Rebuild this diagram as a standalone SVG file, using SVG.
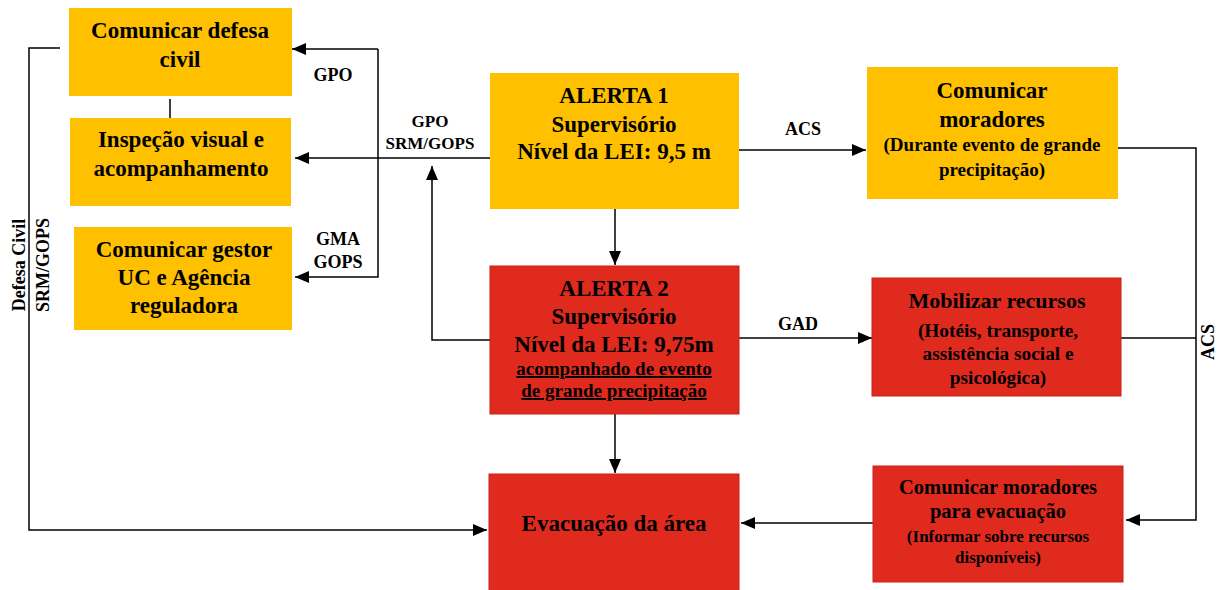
<svg xmlns="http://www.w3.org/2000/svg" width="1221" height="590" viewBox="0 0 1221 590">
<style>
text{font-family:"Liberation Serif","Times New Roman",serif;font-weight:bold;fill:#000;text-anchor:middle}
.y{fill:#FFC000}
.r{fill:#E02A1E;stroke:#C8201A;stroke-width:1}
.t23{font-size:23px}
.t18{font-size:18px}
.t17{font-size:17px}
.ln{fill:none;stroke:#000;stroke-width:1.5}
.u{text-decoration:underline}
</style>
<defs>
<marker id="ah" markerUnits="userSpaceOnUse" markerWidth="14" markerHeight="12" refX="14" refY="6" orient="auto">
<path d="M0,0 L14,6 L0,12 z" fill="#000"/>
</marker>
</defs>
<g id="connectors">
<path class="ln" d="M60,48 H29 V530 H487" stroke="#333" marker-end="url(#ah)"/>
<line class="ln" x1="170" y1="99" x2="170" y2="126" stroke="#555" stroke-width="1"/>
<path class="ln" d="M378,49 H292" marker-end="url(#ah)"/>
<path class="ln" d="M378,49 V277 H295" marker-end="url(#ah)"/>
<path class="ln" d="M490,158 H295" marker-end="url(#ah)"/>
<path class="ln" d="M490,340 H432 V166" marker-end="url(#ah)"/>
<path class="ln" d="M739,150 H866" marker-end="url(#ah)"/>
<path class="ln" d="M615,209 V265" marker-end="url(#ah)"/>
<path class="ln" d="M739,338 H872" marker-end="url(#ah)"/>
<path class="ln" d="M615,414 V473" marker-end="url(#ah)"/>
<path class="ln" d="M1118,148 H1196 V520 H1126" marker-end="url(#ah)"/>
<path class="ln" d="M1121,338 H1196"/>
<path class="ln" d="M873,523 H741" marker-end="url(#ah)"/>
<text class="t18" x="333" y="81">GPO</text>
<text class="t17" x="430" y="127">GPO</text>
<text class="t17" x="430" y="149">SRM/GOPS</text>
<text class="t18" x="338" y="245">GMA</text>
<text class="t18" x="338" y="268">GOPS</text>
<text class="t18" x="803" y="135">ACS</text>
<text class="t18" x="798" y="330">GAD</text>
<text class="t18" transform="translate(1214,342) rotate(-90)">ACS</text>
<text class="t18" transform="translate(25,265) rotate(-90)">Defesa Civil</text>
<text class="t18" transform="translate(49,265) rotate(-90)">SRM/GOPS</text>
</g>
<g id="n-defesa">
<rect class="y" x="69" y="8" width="223" height="88"/>
<text class="t23" x="180" y="38">Comunicar defesa</text>
<text class="t23" x="180" y="67">civil</text>
</g>
<g id="n-inspecao">
<rect class="y" x="70" y="118" width="221" height="88"/>
<text class="t23" x="181" y="147">Inspeção visual e</text>
<text class="t23" x="181" y="176">acompanhamento</text>
</g>
<g id="n-gestor">
<rect class="y" x="74" y="227" width="218" height="103"/>
<text class="t23" x="184" y="257">Comunicar gestor</text>
<text class="t23" x="184" y="285">UC e Agência</text>
<text class="t23" x="184" y="313">reguladora</text>
</g>
<g id="n-alerta1">
<rect class="y" x="490" y="73" width="249" height="136"/>
<text class="t23" x="614" y="103">ALERTA 1</text>
<text class="t23" x="614" y="132">Supervisório</text>
<text class="t23" x="614" y="159">Nível da LEI: 9,5 m</text>
</g>
<g id="n-moradores">
<rect class="y" x="867" y="67" width="251" height="132"/>
<text class="t23" x="992" y="98">Comunicar</text>
<text class="t23" x="992" y="127">moradores</text>
<text style="font-size:19px" x="992" y="151">(Durante evento de grande</text>
<text style="font-size:19px" x="992" y="176">precipitação)</text>
</g>
<g id="n-alerta2">
<rect class="r" x="490" y="266" width="249" height="148"/>
<text class="t23" x="614" y="296">ALERTA 2</text>
<text class="t23" x="614" y="324">Supervisório</text>
<text class="t23" x="614" y="352">Nível da LEI: 9,75m</text>
<text class="u" style="font-size:19px" x="614" y="375">acompanhado de evento</text>
<text class="u" style="font-size:19px" x="614" y="397">de grande precipitação</text>
</g>
<g id="n-mobilizar">
<rect class="r" x="872" y="278" width="249" height="118"/>
<text style="font-size:22px" x="997" y="308">Mobilizar recursos</text>
<text style="font-size:19.3px" x="998" y="337">(Hotéis, transporte,</text>
<text style="font-size:19.3px" x="998" y="360">assistência social e</text>
<text style="font-size:19.3px" x="998" y="384">psicológica)</text>
</g>
<g id="n-evacuacao">
<rect class="r" x="489" y="474" width="250" height="120"/>
<text class="t23" x="614" y="531">Evacuação da área</text>
</g>
<g id="n-comunicar-evac">
<rect class="r" x="873" y="466" width="250" height="116"/>
<text style="font-size:20.5px" x="998" y="494">Comunicar moradores</text>
<text style="font-size:20.5px" x="998" y="518">para evacuação</text>
<text style="font-size:17px" x="998" y="542">(Informar sobre recursos</text>
<text style="font-size:17px" x="998" y="563">disponíveis)</text>
</g>
</svg>
